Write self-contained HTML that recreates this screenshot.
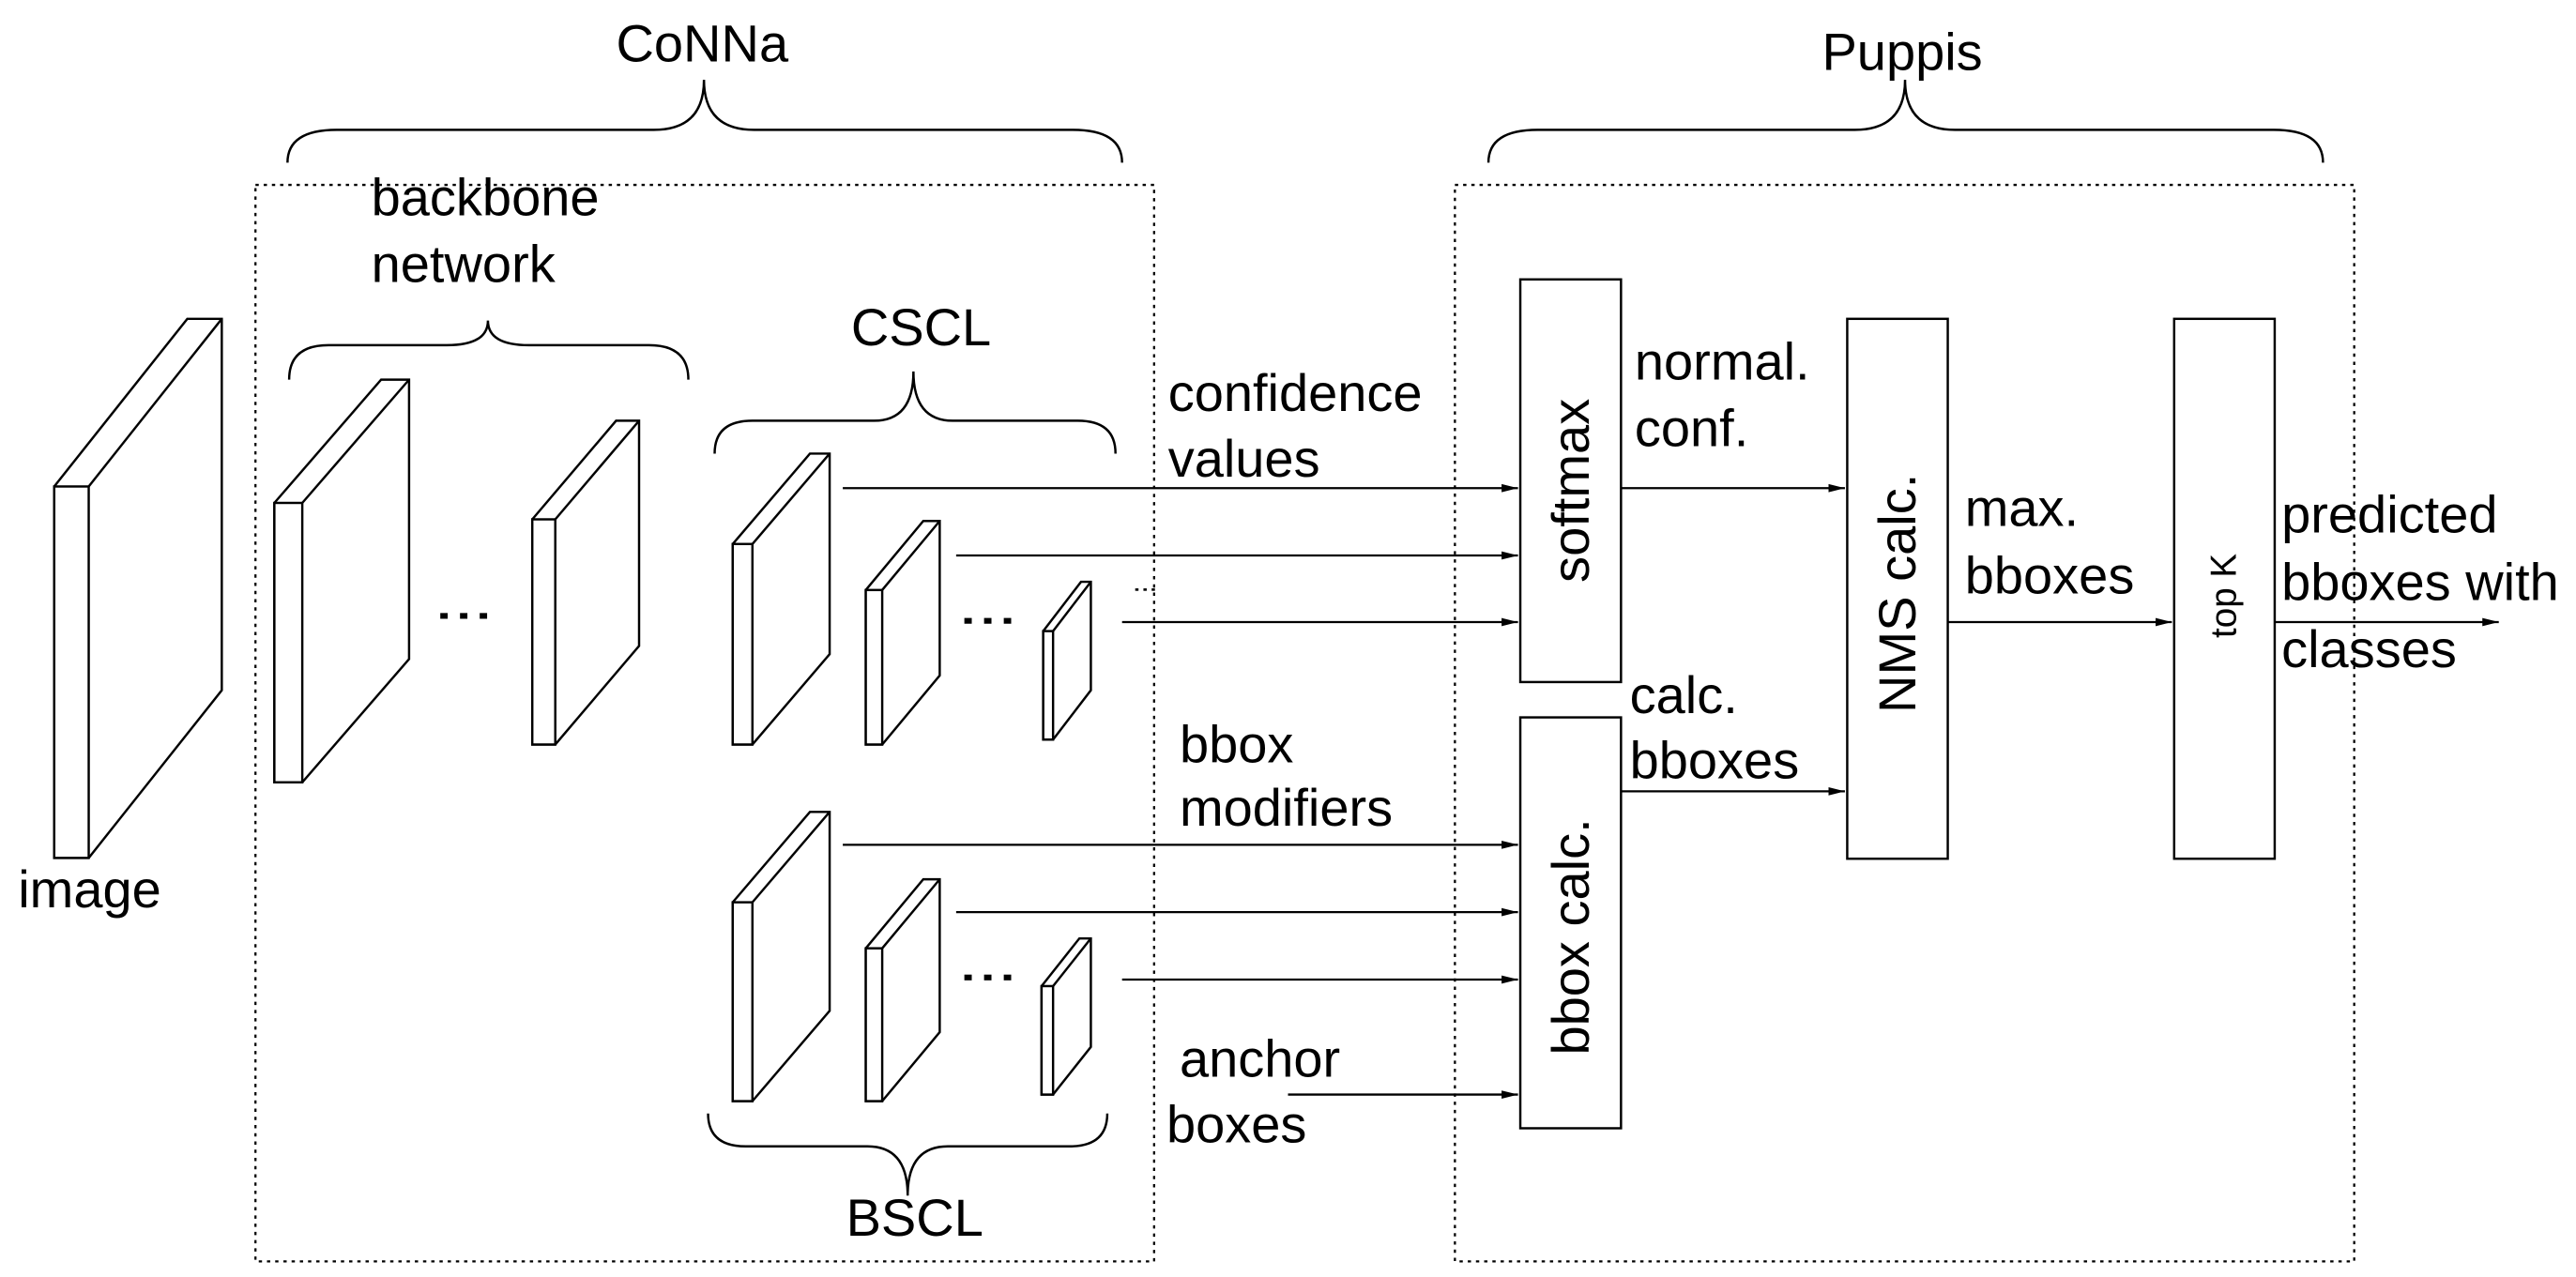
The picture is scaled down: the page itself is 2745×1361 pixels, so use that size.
<!DOCTYPE html>
<html><head><meta charset="utf-8"><style>
html,body{margin:0;padding:0;background:#fff;}
svg{display:block;}
text{font-family:"Liberation Sans",Arial,sans-serif;fill:#000;}
</style></head><body>
<svg width="2745" height="1361" viewBox="0 0 1568 777" preserveAspectRatio="none" xmlns="http://www.w3.org/2000/svg">
<defs>
<marker id="a" markerWidth="10" markerHeight="6" refX="10" refY="3" orient="auto" markerUnits="userSpaceOnUse">
<path d="M0,0.5 L10,3 L0,5.5 Z" fill="#000"/>
</marker>
</defs>
<g fill="none" stroke="#000" stroke-width="1.3" stroke-dasharray="2,3">
<rect x="155.5" y="112.5" width="547" height="655"/>
<rect x="885.6" y="112.5" width="547.4" height="655"/>
</g>
<g fill="none" stroke="#000" stroke-width="1.4">
<!-- braces -->
<path d="M175,99 Q175,79 205,79 L398,79 Q428.5,79 428.5,48.5 Q428.5,79 459,79 L653,79 Q683,79 683,99"/>
<path d="M906,99 Q906,79 936,79 L1129,79 Q1159.6,79 1159.6,48.5 Q1159.6,79 1190,79 L1384,79 Q1414,79 1414,99"/>
<path d="M176,231 Q176,210 200,210 L272,210 Q297,210 297,195 Q297,210 322,210 L395,210 Q419,210 419,231"/>
<path d="M435,276 Q435,256 458,256 L532,256 Q556,256 556,226 Q556,256 580,256 L656,256 Q679,256 679,276"/>
<path d="M431,677.5 Q431,697.5 454,697.5 L528,697.5 Q552.5,697.5 552.5,727.5 Q552.5,697.5 577,697.5 L651,697.5 Q674,697.5 674,677.5"/>
</g>
<g fill="#fff" stroke="#000" stroke-width="1.4" stroke-linejoin="miter">
<polygon points="33,296 114,194 135,194 135,420 54,522 33,522"/><rect x="33" y="296" width="21" height="226"/><line x1="54" y1="296" x2="135" y2="194"/>
<polygon points="167,306 232,231 249,231 249,401 184,476 167,476"/><rect x="167" y="306" width="17" height="170"/><line x1="184" y1="306" x2="249" y2="231"/>
<polygon points="324,316 375,256 389,256 389,393 338,453 324,453"/><rect x="324" y="316" width="14" height="137"/><line x1="338" y1="316" x2="389" y2="256"/>
<polygon points="446,331 493,276 505,276 505,398 458,453 446,453"/><rect x="446" y="331" width="12" height="122"/><line x1="458" y1="331" x2="505" y2="276"/>
<polygon points="527,359 562,317 572,317 572,411 537,453 527,453"/><rect x="527" y="359" width="10" height="94"/><line x1="537" y1="359" x2="572" y2="317"/>
<polygon points="635,384 658,354 664,354 664,420 641,450 635,450"/><rect x="635" y="384" width="6" height="66"/><line x1="641" y1="384" x2="664" y2="354"/>
<polygon points="446,549 493,494 505,494 505,615 458,670 446,670"/><rect x="446" y="549" width="12" height="121"/><line x1="458" y1="549" x2="505" y2="494"/>
<polygon points="527,577 562,535 572,535 572,628 537,670 527,670"/><rect x="527" y="577" width="10" height="93"/><line x1="537" y1="577" x2="572" y2="535"/>
<polygon points="634,600 657,571 664,571 664,637 641,666 634,666"/><rect x="634" y="600" width="7" height="66"/><line x1="641" y1="600" x2="664" y2="571"/>
<!-- process boxes -->
<rect x="925.4" y="170" width="61.3" height="245"/>
<rect x="925.4" y="436.5" width="61.3" height="250"/>
<rect x="1124.4" y="194" width="61.2" height="328.5"/>
<rect x="1323.4" y="194" width="61.2" height="328.5"/>
</g>
<!-- dots -->
<g fill="#000">
<rect x="268" y="373" width="4.5" height="3.5"/><rect x="280" y="373" width="4.5" height="3.5"/><rect x="292" y="373" width="4.5" height="3.5"/>
<rect x="587" y="376" width="4.5" height="3.5"/><rect x="599" y="376" width="4.5" height="3.5"/><rect x="611" y="376" width="4.5" height="3.5"/>
<rect x="587" y="593" width="4.5" height="3.5"/><rect x="599" y="593" width="4.5" height="3.5"/><rect x="611" y="593" width="4.5" height="3.5"/>
<rect x="691" y="358" width="2" height="1.5"/><rect x="696" y="358" width="2" height="1.5"/><rect x="701" y="358" width="2" height="1.5"/>
</g>
<!-- arrows -->
<g stroke="#000" stroke-width="1.3" marker-end="url(#a)">
<line x1="513" y1="297" x2="924" y2="297"/>
<line x1="582" y1="338" x2="924" y2="338"/>
<line x1="683" y1="378.5" x2="924" y2="378.5"/>
<line x1="513" y1="514" x2="924" y2="514"/>
<line x1="582" y1="555" x2="924" y2="555"/>
<line x1="683" y1="596" x2="924" y2="596"/>
<line x1="784" y1="666" x2="924" y2="666"/>
<line x1="986.7" y1="297" x2="1123" y2="297"/>
<line x1="986.7" y1="481.5" x2="1123" y2="481.5"/>
<line x1="1185.6" y1="378.5" x2="1322" y2="378.5"/>
<line x1="1384.6" y1="378.5" x2="1521" y2="378.5"/>
</g>
<g font-size="32">
<text x="375" y="37.5">CoNNa</text>
<text x="1109" y="42.5">Puppis</text>
<text x="226" y="131">backbone</text>
<text x="226" y="171.5">network</text>
<text x="11" y="552">image</text>
<text x="518" y="210">CSCL</text>
<text x="515" y="752">BSCL</text>
<text x="711" y="250">confidence</text>
<text x="711" y="290">values</text>
<text x="718" y="464">bbox</text>
<text x="718" y="502.5">modifiers</text>
<text x="718" y="655">anchor</text>
<text x="710" y="695">boxes</text>
<text x="995" y="231">normal.</text>
<text x="995" y="271.5">conf.</text>
<text x="992" y="434">calc.</text>
<text x="992" y="473.5">bboxes</text>
<text x="1196" y="320">max.</text>
<text x="1196" y="361">bboxes</text>
<text x="1388.7" y="324">predicted</text>
<text x="1388.7" y="365">bboxes with</text>
<text x="1388.7" y="406">classes</text>
<text transform="translate(967,298.5) rotate(-90)" text-anchor="middle">softmax</text>
<text transform="translate(967,570) rotate(-90)" text-anchor="middle">bbox calc.</text>
<text transform="translate(1166,361) rotate(-90)" text-anchor="middle">NMS calc.</text>
<text transform="translate(1361,362.5) rotate(-90)" text-anchor="middle" font-size="22">top K</text>
</g>
</svg>
</body></html>
